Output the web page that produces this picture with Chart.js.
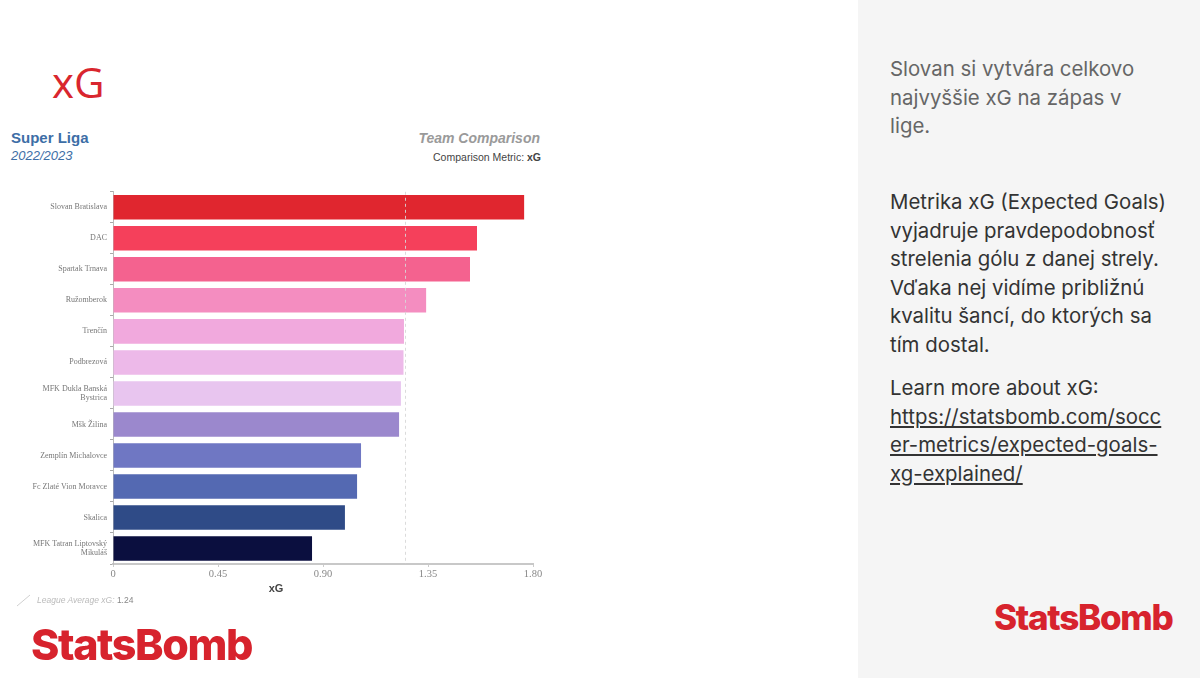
<!DOCTYPE html>
<html>
<head>
<meta charset="utf-8">
<script src="https://cdn.jsdelivr.net/npm/chart.js@4.4.0/dist/chart.umd.min.js"></script>
<style>
  html,body{margin:0;padding:0;width:1200px;height:678px;background:#fff;overflow:hidden;font-family:"Liberation Sans",Arial,sans-serif;}
  .abs{position:absolute;white-space:nowrap;}
  #side{position:absolute;left:858px;top:0;width:342px;height:678px;background:#f5f5f5;}
  .para{position:absolute;left:890px;font-family:Inter,"Noto Sans",sans-serif;font-size:20.4px;line-height:28.6px;color:#333;white-space:nowrap;}
  .logo{position:absolute;font-family:Inter,sans-serif;font-weight:800;color:#d7232d;white-space:nowrap;transform-origin:0 0;}
</style>
</head>
<body>
<div id="side"></div>
<div class="abs" style="left:52px;top:58px;font-family:'Open Sans',sans-serif;font-size:42px;line-height:48px;color:#d9262e;">xG</div>

<div class="abs" style="left:11px;top:129px;font-size:15px;font-weight:bold;color:#3d6ea6;">Super Liga</div>
<div class="abs" style="left:11px;top:148px;font-size:13px;font-style:italic;color:#3d6ea6;">2022/2023</div>
<div class="abs" style="right:660px;top:130px;font-size:14px;font-weight:bold;font-style:italic;color:#9a9a9a;">Team Comparison</div>
<div class="abs" style="right:659px;top:151px;font-size:10.5px;color:#444;">Comparison Metric: <b>xG</b></div>

<div style="position:absolute;left:0;top:180px;width:560px;height:420px;"><canvas id="c"></canvas></div>
<div class="abs" style="left:266px;top:582px;width:20px;text-align:center;font-size:11px;font-weight:bold;color:#444;">xG</div>

<svg style="position:absolute;left:0;top:0" width="60" height="620"><line x1="17" y1="606" x2="30" y2="595" stroke="#d0d0d0" stroke-width="1"/></svg>
<div class="abs" style="left:37px;top:595px;font-size:8.5px;color:#bbb;font-style:italic;">League Average xG: <span style="font-style:normal;color:#888">1.24</span></div>

<div class="logo" style="left:31px;top:618px;font-size:43px;line-height:52px;letter-spacing:-1.4px;">StatsBomb</div>
<div class="logo" style="left:994px;top:596px;font-size:35px;line-height:42px;letter-spacing:-1.3px;">StatsBomb</div>

<div class="para" style="top:55px;color:#666;">Slovan si vytvára celkovo<br>najvyššie xG na zápas v<br>lige.</div>
<div class="para" style="top:188px;">Metrika xG (Expected Goals)<br>vyjadruje pravdepodobnosť<br>strelenia gólu z danej strely.<br>Vďaka nej vidíme približnú<br>kvalitu šancí, do ktorých sa<br>tím dostal.</div>
<div class="para" style="top:374px;">Learn more about xG:<br><span style="text-decoration:underline;">https://statsbomb.com/socc<br>er-metrics/expected-goals-<br>xg-explained/</span></div>

<script>
const teams = [
  "Slovan Bratislava", "DAC", "Spartak Trnava", "Ružomberok", "Trenčín", "Podbrezová",
  ["MFK Dukla Banská", "Bystrica"], "Mšk Žilina", "Zemplín Michalovce", "Fc Zlaté Vion Moravce",
  "Skalica", ["MFK Tatran Liptovský", "Mikuláš"]
];
const xgValues = [1.762, 1.560, 1.530, 1.342, 1.247, 1.245, 1.234, 1.226, 1.063, 1.046, 0.994, 0.853];
const barColors = ["#e0262f", "#f5405b", "#f4628f", "#f48dc0", "#f1a9dd", "#edb9e9", "#e8c5ef",
  "#9b88cd", "#6f77c3", "#5469b2", "#2f4b87", "#0b0f3f"];
const tickValues = [0, 0.45, 0.9, 1.35, 1.8];
const tickLabels = ["0", "0.45", "0.90", "1.35", "1.80"];
const leagueAverage = 1.25;

const avgLine = {
  id: 'avgLine',
  afterDatasetsDraw(chart) {
    const {ctx, chartArea, scales} = chart;
    const x = Math.round(scales.x.getPixelForValue(leagueAverage)) + 0.5;
    ctx.save();
    ctx.strokeStyle = 'rgba(215,215,215,0.9)';
    ctx.lineWidth = 1;
    ctx.setLineDash([3, 3]);
    ctx.beginPath();
    ctx.moveTo(x, chartArea.top);
    ctx.lineTo(x, chartArea.bottom);
    ctx.stroke();
    ctx.restore();
  }
};

new Chart(document.getElementById('c'), {
  type: 'bar',
  data: {
    labels: teams,
    datasets: [{ data: xgValues, backgroundColor: barColors, borderWidth: 0,
      categoryPercentage: 1, barPercentage: 0.79 }]
  },
  options: {
    indexAxis: 'y',
    responsive: true,
    maintainAspectRatio: false,
    animation: false,
    layout: { padding: { left: 0, right: 27, top: 10.5, bottom: 0 } },
    plugins: { legend: { display: false }, tooltip: { enabled: false } },
    scales: {
      x: {
        min: 0, max: 1.8,
        afterBuildTicks(axis) { axis.ticks = tickValues.map(v => ({ value: v })); },
        afterFit(axis) { axis.height = 36; },
        ticks: {
          callback: (v, i) => tickLabels[i],
          font: { family: "'Liberation Serif', serif", size: 10.5 },
          color: '#888', padding: 1, maxRotation: 0
        },
        grid: { display: true, drawOnChartArea: false, tickLength: 3, color: '#ccc' },
        border: { display: true, color: '#c8c8c8', width: 2 }
      },
      y: {
        afterFit(axis) { axis.width = 113; },
        ticks: {
          font: { family: "'Liberation Serif', serif", size: 8, lineHeight: 1.1 },
          color: '#777', padding: 3
        },
        grid: { display: true, drawOnChartArea: false, tickLength: 3, color: '#aaa' },
        border: { display: true, color: '#bbb', width: 1 }
      }
    }
  },
  plugins: [avgLine]
});
</script>
</body>
</html>
